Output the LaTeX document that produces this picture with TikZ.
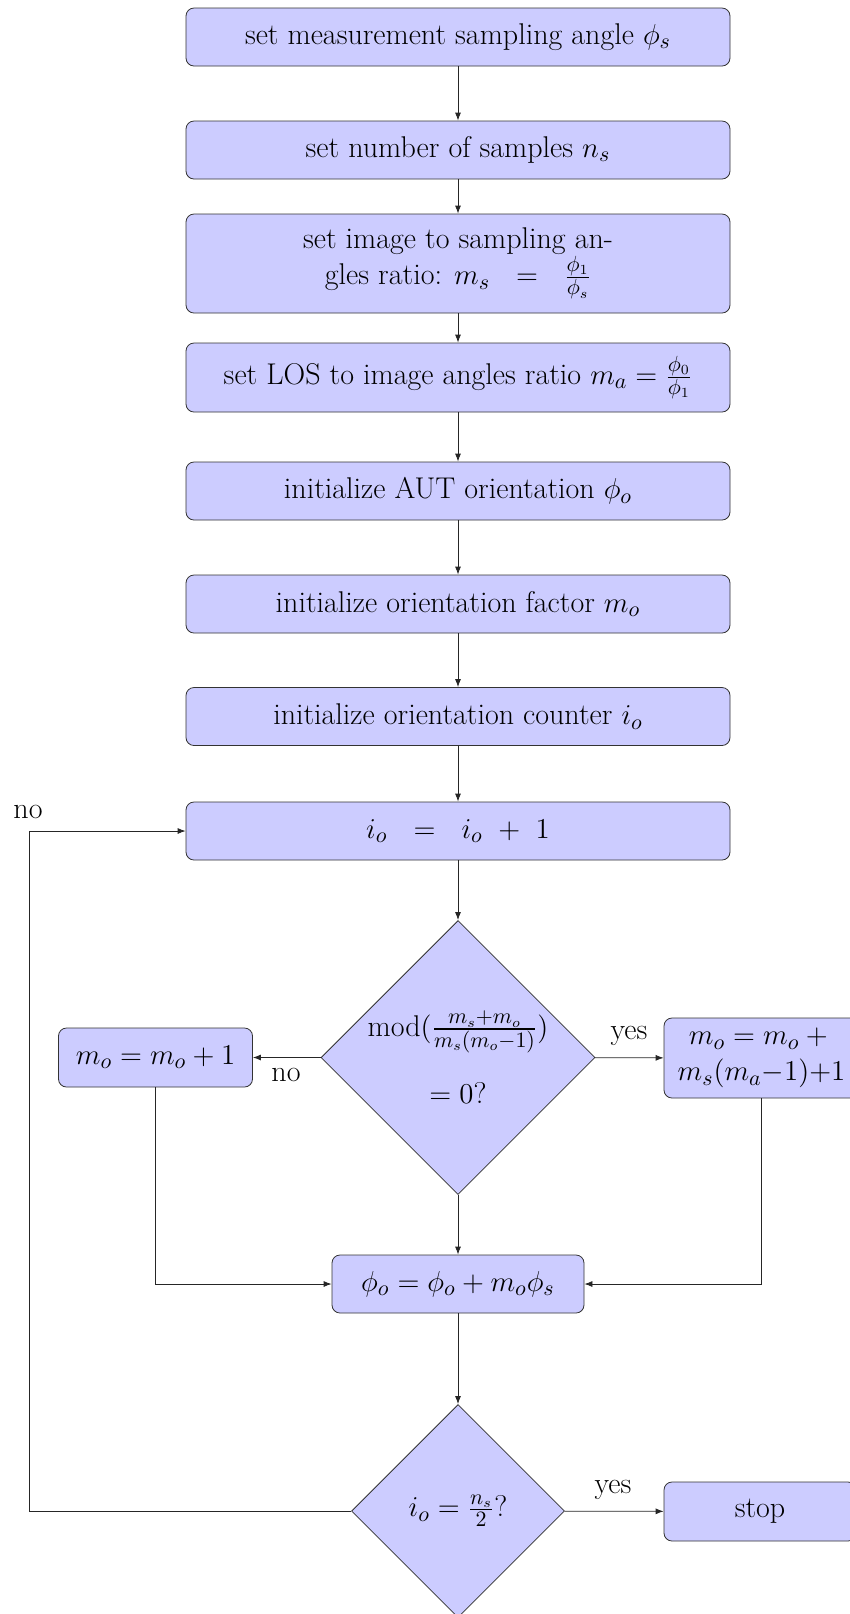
\documentclass[tikz,border=0pt]{standalone}
\usepackage{amsmath,amssymb}
\usepackage{tikz}
\usetikzlibrary{arrows.meta,shapes.geometric}

\tikzset{
  procbox/.style={rectangle,rounded corners=4pt,draw=black!80,fill=blue!20,
    text centered,inner sep=2pt,font=\fontsize{15}{18}\selectfont},
  testbox/.style={diamond,aspect=1,draw=black!80,fill=blue!20,
    text centered,inner sep=-12pt,font=\fontsize{15}{18}\selectfont},
  flow/.style={-{Latex[length=4pt,width=3pt]},black!85},
  lbl/.style={font=\fontsize{15}{18}\selectfont}
}

\begin{document}
\begin{tikzpicture}[x=0.5pt,y=-0.5pt]
\useasboundingbox (0,0) rectangle (850,1614);
%% main column
\node[procbox,minimum width=272pt,minimum height=29pt] (angle) at (458,37) {set measurement sampling angle $\phi_s$};
\node[procbox,minimum width=272pt,minimum height=29pt] (samples) at (458,150) {set number of samples $n_s$};
\node[procbox,minimum width=272pt,minimum height=49.5pt,align=center] (ratio) at (458,263.5) {set image to sampling an-\\gles ratio: $m_s\ \ =\ \ \frac{\phi_1}{\phi_s}$};
\node[procbox,minimum width=272pt,minimum height=34.5pt] (losratio) at (458,377.5) {set LOS to image angles ratio $m_a=\frac{\phi_0}{\phi_1}$};
\node[procbox,minimum width=272pt,minimum height=29pt] (initphi) at (458,491) {initialize AUT orientation $\phi_o$};
\node[procbox,minimum width=272pt,minimum height=29pt] (initfac) at (458,604) {initialize orientation factor $m_o$};
\node[procbox,minimum width=272pt,minimum height=29pt] (initcnt) at (458,716.5) {initialize orientation counter $i_o$};
\node[procbox,minimum width=272pt,minimum height=29pt] (count) at (458,831) {$i_o\ \ =\ \ i_o\ +\ 1$};
\node[testbox,minimum size=137pt,align=center] (modtest) at (458,1057.5) {mod$(\frac{m_s+m_o}{m_s(m_o-1)})$\\[14pt]$=0$?};
\node[procbox,minimum width=97pt,minimum height=29.5pt] (incfac) at (155.5,1057.5) {$m_o=m_o+1$};
\node[procbox,minimum width=97.5pt,minimum height=40pt,align=center] (jumpfac) at (761.5,1058) {$m_o=m_o+{}$\\$m_s(m_a{-}1){+}1$};
\node[procbox,minimum width=126pt,minimum height=29pt] (update) at (458,1284) {$\phi_o=\phi_o+m_o\phi_s$};
\node[testbox,minimum size=106.5pt] (endtest) at (458,1511) {$i_o=\frac{n_s}{2}$?};
\node[procbox,minimum width=96pt,minimum height=29.5pt] (stop) at (760,1511.5) {stop};
\coordinate (loop) at (29,1511);
%% labels
\node[lbl] (no1) at (28,812) {no};
\node[lbl] (no2) at (286,1075) {no};
\node[lbl] (yes1) at (629,1036) {yes};
\node[lbl] (yes2) at (613,1490) {yes};
%% arrows
\draw[flow] (angle) -- (samples);
\draw[flow] (samples) -- (ratio);
\draw[flow] (ratio) -- (losratio);
\draw[flow] (losratio) -- (initphi);
\draw[flow] (initphi) -- (initfac);
\draw[flow] (initfac) -- (initcnt);
\draw[flow] (initcnt) -- (count);
\draw[flow] (count) -- (modtest);
\draw[flow] (modtest) -- (incfac);
\draw[flow] (modtest) -- (jumpfac);
\draw[flow] (modtest) -- (update);
\draw[flow] (incfac) |- (update);
\draw[flow] (jumpfac) |- (update);
\draw[flow] (update) -- (endtest);
\draw[flow] (endtest) -- (stop);
\draw[flow] (endtest) -- (loop) |- (count);
\end{tikzpicture}
\end{document}
